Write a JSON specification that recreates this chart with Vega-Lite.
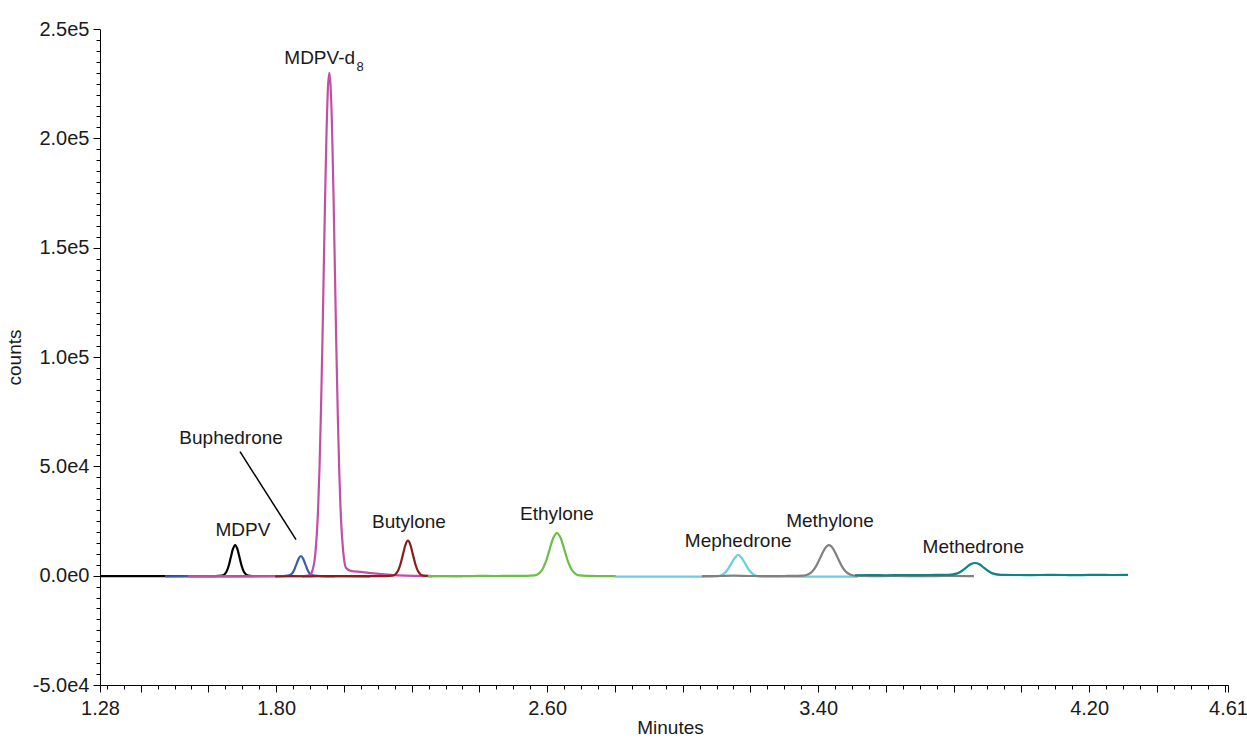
{
  "$schema": "https://vega.github.io/schema/vega-lite/v6.json",
  "width": 1128,
  "height": 656,
  "autosize": {"type": "none"},
  "padding": {"left": 100, "top": 29, "right": 19, "bottom": 54},
  "background": "white",
  "config": {
    "view": {"stroke": null},
    "axis": {
      "grid": false,
      "domainColor": "#000000",
      "domainWidth": 1,
      "tickColor": "#000000",
      "tickWidth": 1,
      "labelFont": "Liberation Sans, Arial, sans-serif",
      "labelFontSize": 20,
      "labelColor": "#1a1a1a",
      "titleFont": "Liberation Sans, Arial, sans-serif",
      "titleFontSize": 19,
      "titleFontWeight": "normal",
      "titleColor": "#1a1a1a",
      "labelOverlap": false,
      "labelFlush": false
    }
  },
  "datasets": {
    "traces": [
      {"c": "MDPV", "t": 1.28, "counts": -200},
      {"c": "MDPV", "t": 1.35, "counts": -250},
      {"c": "MDPV", "t": 1.45, "counts": -200},
      {"c": "MDPV", "t": 1.55, "counts": -250},
      {"c": "MDPV", "t": 1.62, "counts": -200},
      {"c": "MDPV", "t": 1.64, "counts": 0},
      {"c": "MDPV", "t": 1.653, "counts": 1700},
      {"c": "MDPV", "t": 1.6595, "counts": 4300},
      {"c": "MDPV", "t": 1.666, "counts": 8300},
      {"c": "MDPV", "t": 1.6725, "counts": 12200},
      {"c": "MDPV", "t": 1.679, "counts": 14000},
      {"c": "MDPV", "t": 1.6855, "counts": 12200},
      {"c": "MDPV", "t": 1.692, "counts": 8300},
      {"c": "MDPV", "t": 1.6985, "counts": 4300},
      {"c": "MDPV", "t": 1.705, "counts": 1700},
      {"c": "MDPV", "t": 1.718, "counts": 0},
      {"c": "MDPV", "t": 1.73, "counts": -200},

      {"c": "Buphedrone", "t": 1.472, "counts": -300},
      {"c": "Buphedrone", "t": 1.55, "counts": -250},
      {"c": "Buphedrone", "t": 1.65, "counts": -300},
      {"c": "Buphedrone", "t": 1.75, "counts": -250},
      {"c": "Buphedrone", "t": 1.82, "counts": -200},
      {"c": "Buphedrone", "t": 1.834, "counts": 0},
      {"c": "Buphedrone", "t": 1.847, "counts": 1000},
      {"c": "Buphedrone", "t": 1.8535, "counts": 2700},
      {"c": "Buphedrone", "t": 1.86, "counts": 5300},
      {"c": "Buphedrone", "t": 1.8665, "counts": 7800},
      {"c": "Buphedrone", "t": 1.873, "counts": 9000},
      {"c": "Buphedrone", "t": 1.8795, "counts": 7800},
      {"c": "Buphedrone", "t": 1.886, "counts": 5300},
      {"c": "Buphedrone", "t": 1.8925, "counts": 2700},
      {"c": "Buphedrone", "t": 1.899, "counts": 1000},
      {"c": "Buphedrone", "t": 1.912, "counts": 0},
      {"c": "Buphedrone", "t": 1.95, "counts": -300},
      {"c": "Buphedrone", "t": 2.0, "counts": -250},
      {"c": "Buphedrone", "t": 2.077, "counts": -300},

      {"c": "MDPV-d8", "t": 1.54, "counts": -300},
      {"c": "MDPV-d8", "t": 1.6, "counts": -250},
      {"c": "MDPV-d8", "t": 1.7, "counts": -300},
      {"c": "MDPV-d8", "t": 1.8, "counts": -250},
      {"c": "MDPV-d8", "t": 1.88, "counts": -250},
      {"c": "MDPV-d8", "t": 1.899, "counts": 300},
      {"c": "MDPV-d8", "t": 1.9075, "counts": 2550},
      {"c": "MDPV-d8", "t": 1.9157, "counts": 10100},
      {"c": "MDPV-d8", "t": 1.924, "counts": 31100},
      {"c": "MDPV-d8", "t": 1.9281, "counts": 49700},
      {"c": "MDPV-d8", "t": 1.9322, "counts": 74700},
      {"c": "MDPV-d8", "t": 1.9364, "counts": 105300},
      {"c": "MDPV-d8", "t": 1.9405, "counts": 139500},
      {"c": "MDPV-d8", "t": 1.9446, "counts": 173600},
      {"c": "MDPV-d8", "t": 1.9488, "counts": 203000},
      {"c": "MDPV-d8", "t": 1.9529, "counts": 222900},
      {"c": "MDPV-d8", "t": 1.957, "counts": 230000},
      {"c": "MDPV-d8", "t": 1.9611, "counts": 222900},
      {"c": "MDPV-d8", "t": 1.9653, "counts": 203000},
      {"c": "MDPV-d8", "t": 1.9694, "counts": 173600},
      {"c": "MDPV-d8", "t": 1.9735, "counts": 139500},
      {"c": "MDPV-d8", "t": 1.9776, "counts": 105300},
      {"c": "MDPV-d8", "t": 1.9818, "counts": 74700},
      {"c": "MDPV-d8", "t": 1.9859, "counts": 49700},
      {"c": "MDPV-d8", "t": 1.99, "counts": 31100},
      {"c": "MDPV-d8", "t": 1.9983, "counts": 10500},
      {"c": "MDPV-d8", "t": 2.0065, "counts": 3500},
      {"c": "MDPV-d8", "t": 2.02, "counts": 2200},
      {"c": "MDPV-d8", "t": 2.05, "counts": 1700},
      {"c": "MDPV-d8", "t": 2.08, "counts": 1200},
      {"c": "MDPV-d8", "t": 2.12, "counts": 600},
      {"c": "MDPV-d8", "t": 2.16, "counts": 100},
      {"c": "MDPV-d8", "t": 2.22, "counts": -100},
      {"c": "MDPV-d8", "t": 2.3, "counts": -200},
      {"c": "MDPV-d8", "t": 2.35, "counts": -200},

      {"c": "Butylone", "t": 1.797, "counts": -300},
      {"c": "Butylone", "t": 1.85, "counts": -250},
      {"c": "Butylone", "t": 1.9, "counts": -300},
      {"c": "Butylone", "t": 1.95, "counts": -200},
      {"c": "Butylone", "t": 2.0, "counts": -250},
      {"c": "Butylone", "t": 2.05, "counts": -200},
      {"c": "Butylone", "t": 2.1, "counts": -250},
      {"c": "Butylone", "t": 2.144, "counts": 0},
      {"c": "Butylone", "t": 2.159, "counts": 2000},
      {"c": "Butylone", "t": 2.1665, "counts": 5000},
      {"c": "Butylone", "t": 2.174, "counts": 9500},
      {"c": "Butylone", "t": 2.1815, "counts": 14000},
      {"c": "Butylone", "t": 2.189, "counts": 16000},
      {"c": "Butylone", "t": 2.1965, "counts": 14000},
      {"c": "Butylone", "t": 2.204, "counts": 9500},
      {"c": "Butylone", "t": 2.2115, "counts": 5000},
      {"c": "Butylone", "t": 2.219, "counts": 2000},
      {"c": "Butylone", "t": 2.234, "counts": 0},
      {"c": "Butylone", "t": 2.26, "counts": -200},

      {"c": "Ethylone", "t": 2.248, "counts": -200},
      {"c": "Ethylone", "t": 2.3, "counts": -150},
      {"c": "Ethylone", "t": 2.35, "counts": -250},
      {"c": "Ethylone", "t": 2.4, "counts": -100},
      {"c": "Ethylone", "t": 2.45, "counts": -150},
      {"c": "Ethylone", "t": 2.5, "counts": -100},
      {"c": "Ethylone", "t": 2.54, "counts": -100},
      {"c": "Ethylone", "t": 2.563, "counts": 100},
      {"c": "Ethylone", "t": 2.574, "counts": 850},
      {"c": "Ethylone", "t": 2.585, "counts": 2600},
      {"c": "Ethylone", "t": 2.596, "counts": 6300},
      {"c": "Ethylone", "t": 2.607, "counts": 11800},
      {"c": "Ethylone", "t": 2.618, "counts": 17200},
      {"c": "Ethylone", "t": 2.629, "counts": 19500},
      {"c": "Ethylone", "t": 2.64, "counts": 17200},
      {"c": "Ethylone", "t": 2.651, "counts": 11800},
      {"c": "Ethylone", "t": 2.662, "counts": 6300},
      {"c": "Ethylone", "t": 2.673, "counts": 2600},
      {"c": "Ethylone", "t": 2.684, "counts": 850},
      {"c": "Ethylone", "t": 2.695, "counts": 150},
      {"c": "Ethylone", "t": 2.72, "counts": -100},
      {"c": "Ethylone", "t": 2.76, "counts": -200},
      {"c": "Ethylone", "t": 2.803, "counts": -250},

      {"c": "Mephedrone", "t": 2.8, "counts": -400},
      {"c": "Mephedrone", "t": 2.85, "counts": -450},
      {"c": "Mephedrone", "t": 2.9, "counts": -400},
      {"c": "Mephedrone", "t": 2.95, "counts": -450},
      {"c": "Mephedrone", "t": 3.0, "counts": -400},
      {"c": "Mephedrone", "t": 3.05, "counts": -450},
      {"c": "Mephedrone", "t": 3.101, "counts": -350},
      {"c": "Mephedrone", "t": 3.1115, "counts": 0},
      {"c": "Mephedrone", "t": 3.122, "counts": 900},
      {"c": "Mephedrone", "t": 3.1325, "counts": 2700},
      {"c": "Mephedrone", "t": 3.143, "counts": 5400},
      {"c": "Mephedrone", "t": 3.1535, "counts": 8000},
      {"c": "Mephedrone", "t": 3.164, "counts": 9500},
      {"c": "Mephedrone", "t": 3.1745, "counts": 8000},
      {"c": "Mephedrone", "t": 3.185, "counts": 5400},
      {"c": "Mephedrone", "t": 3.1955, "counts": 2700},
      {"c": "Mephedrone", "t": 3.206, "counts": 900},
      {"c": "Mephedrone", "t": 3.2165, "counts": 0},
      {"c": "Mephedrone", "t": 3.227, "counts": -350},
      {"c": "Mephedrone", "t": 3.28, "counts": -400},
      {"c": "Mephedrone", "t": 3.35, "counts": -450},
      {"c": "Mephedrone", "t": 3.42, "counts": -400},
      {"c": "Mephedrone", "t": 3.518, "counts": -450},

      {"c": "Methylone", "t": 3.057, "counts": -200},
      {"c": "Methylone", "t": 3.1, "counts": -150},
      {"c": "Methylone", "t": 3.15, "counts": 0},
      {"c": "Methylone", "t": 3.2, "counts": -150},
      {"c": "Methylone", "t": 3.25, "counts": -200},
      {"c": "Methylone", "t": 3.3, "counts": -150},
      {"c": "Methylone", "t": 3.357, "counts": 0},
      {"c": "Methylone", "t": 3.3695, "counts": 500},
      {"c": "Methylone", "t": 3.382, "counts": 1800},
      {"c": "Methylone", "t": 3.3945, "counts": 4500},
      {"c": "Methylone", "t": 3.407, "counts": 8400},
      {"c": "Methylone", "t": 3.4195, "counts": 12300},
      {"c": "Methylone", "t": 3.432, "counts": 14000},
      {"c": "Methylone", "t": 3.4445, "counts": 12300},
      {"c": "Methylone", "t": 3.457, "counts": 8400},
      {"c": "Methylone", "t": 3.4695, "counts": 4500},
      {"c": "Methylone", "t": 3.482, "counts": 1800},
      {"c": "Methylone", "t": 3.4945, "counts": 500},
      {"c": "Methylone", "t": 3.507, "counts": 0},
      {"c": "Methylone", "t": 3.55, "counts": -200},
      {"c": "Methylone", "t": 3.62, "counts": -150},
      {"c": "Methylone", "t": 3.7, "counts": -200},
      {"c": "Methylone", "t": 3.78, "counts": -150},
      {"c": "Methylone", "t": 3.86, "counts": -200},

      {"c": "Methedrone", "t": 3.509, "counts": 200},
      {"c": "Methedrone", "t": 3.55, "counts": 300},
      {"c": "Methedrone", "t": 3.6, "counts": 200},
      {"c": "Methedrone", "t": 3.65, "counts": 300},
      {"c": "Methedrone", "t": 3.7, "counts": 250},
      {"c": "Methedrone", "t": 3.75, "counts": 350},
      {"c": "Methedrone", "t": 3.785, "counts": 350},
      {"c": "Methedrone", "t": 3.811, "counts": 1050},
      {"c": "Methedrone", "t": 3.824, "counts": 2150},
      {"c": "Methedrone", "t": 3.837, "counts": 3700},
      {"c": "Methedrone", "t": 3.85, "counts": 5200},
      {"c": "Methedrone", "t": 3.863, "counts": 5800},
      {"c": "Methedrone", "t": 3.876, "counts": 5200},
      {"c": "Methedrone", "t": 3.889, "counts": 3700},
      {"c": "Methedrone", "t": 3.902, "counts": 2150},
      {"c": "Methedrone", "t": 3.915, "counts": 1050},
      {"c": "Methedrone", "t": 3.941, "counts": 350},
      {"c": "Methedrone", "t": 3.98, "counts": 300},
      {"c": "Methedrone", "t": 4.03, "counts": 250},
      {"c": "Methedrone", "t": 4.08, "counts": 350},
      {"c": "Methedrone", "t": 4.13, "counts": 300},
      {"c": "Methedrone", "t": 4.18, "counts": 250},
      {"c": "Methedrone", "t": 4.22, "counts": 400},
      {"c": "Methedrone", "t": 4.27, "counts": 300},
      {"c": "Methedrone", "t": 4.315, "counts": 350}
    ],
    "labels": [
      {"label": "Buphedrone", "t": 1.667, "counts": 63100},
      {"label": "MDPV", "t": 1.702, "counts": 21000},
      {"label": "Butylone", "t": 2.192, "counts": 24700},
      {"label": "Ethylone", "t": 2.629, "counts": 28300},
      {"label": "Mephedrone", "t": 3.164, "counts": 16000},
      {"label": "Methylone", "t": 3.435, "counts": 25100},
      {"label": "Methedrone", "t": 3.858, "counts": 13300}
    ],
    "mainlabel": [
      {"label": "MDPV-d", "t": 2.033, "counts": 234000}
    ],
    "sublabel": [
      {"label": "8", "t": 2.037, "counts": 230800}
    ],
    "leader": [
      {"t": 1.6933, "counts": 56700, "t2": 1.8587, "counts2": 16500}
    ]
  },
  "encoding": {
    "x": {
      "field": "t",
      "type": "quantitative",
      "scale": {"domain": [1.28, 4.61], "nice": false, "zero": false},
      "axis": {
        "title": "Minutes",
        "titlePadding": 0,
        "titleX": 570,
        "values": [1.28, 1.3, 1.35, 1.4, 1.45, 1.5, 1.55, 1.6, 1.65, 1.7, 1.75, 1.8, 1.85, 1.9, 1.95, 2, 2.05, 2.1, 2.15, 2.2, 2.25, 2.3, 2.35, 2.4, 2.45, 2.5, 2.55, 2.6, 2.65, 2.7, 2.75, 2.8, 2.85, 2.9, 2.95, 3, 3.05, 3.1, 3.15, 3.2, 3.25, 3.3, 3.35, 3.4, 3.45, 3.5, 3.55, 3.6, 3.65, 3.7, 3.75, 3.8, 3.85, 3.9, 3.95, 4, 4.05, 4.1, 4.15, 4.2, 4.25, 4.3, 4.35, 4.4, 4.45, 4.5, 4.55, 4.6, 4.61],
        "labelExpr": "indexof([1.28, 1.8, 2.6, 3.4, 4.2, 4.61], datum.value) >= 0 ? format(datum.value, '.2f') : ''",
        "tickSize": {"condition": {"test": "indexof([1.28, 1.4, 1.6, 1.8, 2, 2.2, 2.4, 2.6, 2.8, 3, 3.2, 3.4, 3.6, 3.8, 4, 4.2, 4.4, 4.6, 4.61], datum.value) >= 0", "value": 7}, "value": 4},
        "labelPadding": 6
      }
    },
    "y": {
      "field": "counts",
      "type": "quantitative",
      "scale": {"domain": [-50000, 250000], "nice": false, "zero": false},
      "axis": {
        "title": "counts",
        "titlePadding": 8,
        "values": [-50000, -45000, -40000, -35000, -30000, -25000, -20000, -15000, -10000, -5000, 0, 5000, 10000, 15000, 20000, 25000, 30000, 35000, 40000, 45000, 50000, 55000, 60000, 65000, 70000, 75000, 80000, 85000, 90000, 95000, 100000, 105000, 110000, 115000, 120000, 125000, 130000, 135000, 140000, 145000, 150000, 155000, 160000, 165000, 170000, 175000, 180000, 185000, 190000, 195000, 200000, 205000, 210000, 215000, 220000, 225000, 230000, 235000, 240000, 245000, 250000],
        "labelExpr": "datum.value % 50000 === 0 ? replace(replace(format(datum.value, '.1e'), '+', ''), '\u2212', '-') : ''",
        "tickSize": {"condition": {"test": "datum.value % 50000 === 0", "value": 7}, "value": 4},
        "labelPadding": 4
      }
    }
  },
  "layer": [
    {
      "data": {"name": "traces"},
      "mark": {"type": "line", "strokeWidth": 2.2, "interpolate": "monotone"},
      "encoding": {
        "color": {
          "field": "c",
          "type": "nominal",
          "scale": {
            "domain": ["MDPV", "Buphedrone", "MDPV-d8", "Butylone", "Ethylone", "Mephedrone", "Methylone", "Methedrone"],
            "range": ["#000000", "#3a5bb0", "#c24fa6", "#8c1c1c", "#6bbf44", "#6ccde0", "#808080", "#0b8585"]
          },
          "legend": null
        }
      }
    },
    {
      "data": {"name": "leader"},
      "mark": {"type": "rule", "color": "#000000", "strokeWidth": 1.5},
      "encoding": {
        "x2": {"field": "t2"},
        "y2": {"field": "counts2"}
      }
    },
    {
      "data": {"name": "labels"},
      "mark": {"type": "text", "font": "Liberation Sans, Arial, sans-serif", "fontSize": 19, "color": "#1a1a1a", "align": "center", "baseline": "middle"},
      "encoding": {"text": {"field": "label"}}
    },
    {
      "data": {"name": "mainlabel"},
      "mark": {"type": "text", "font": "Liberation Sans, Arial, sans-serif", "fontSize": 19, "color": "#1a1a1a", "align": "right", "baseline": "alphabetic"},
      "encoding": {"text": {"field": "label"}}
    },
    {
      "data": {"name": "sublabel"},
      "mark": {"type": "text", "font": "Liberation Sans, Arial, sans-serif", "fontSize": 13, "color": "#1a1a1a", "align": "left", "baseline": "alphabetic"},
      "encoding": {"text": {"field": "label"}}
    }
  ]
}
